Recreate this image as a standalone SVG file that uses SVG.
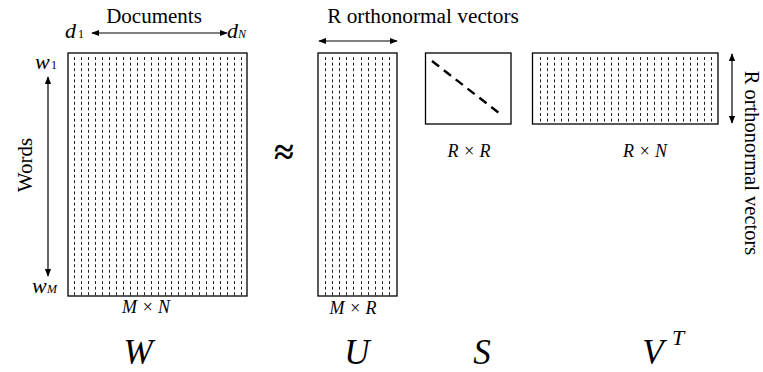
<svg xmlns="http://www.w3.org/2000/svg" width="763" height="372" viewBox="0 0 763 372">
<defs>
<marker id="ah" viewBox="0 0 10 10" refX="9" refY="5" markerWidth="8" markerHeight="8" markerUnits="userSpaceOnUse" orient="auto-start-reverse">
<path d="M0,1 L10,5 L0,9 z" fill="#000"/>
</marker>
</defs>
<style>
.t{font-family:"Liberation Serif","Times New Roman",serif;fill:#000}
.i{font-style:italic}
.box{fill:#fff;stroke:#000;stroke-width:1.3}
.vl{stroke:#222;stroke-width:1;stroke-dasharray:3 2.6}
.ar{stroke:#000;stroke-width:1.2;fill:none;marker-start:url(#ah);marker-end:url(#ah)}
</style>
<g id="W">
<rect class="box" x="68" y="53" width="179" height="243"/>
<path class="vl" d="M74.5,57V296M81.5,57V296M88.5,57V296M95.5,57V296M102.5,57V296M109.5,57V296M116.5,57V296M123.5,57V296M130.5,57V296M137.5,57V296M144.5,57V296M151.5,57V296M158.5,57V296M165.5,57V296M171.5,57V296M178.5,57V296M185.5,57V296M192.5,57V296M199.5,57V296M206.5,57V296M213.5,57V296M220.5,57V296M227.5,57V296M234.5,57V296M241.5,57V296"/>
<text class="t" x="154" y="23" font-size="21" text-anchor="middle">Documents</text>
<text class="t i" x="65" y="38" font-size="22">d</text><text class="t" x="78" y="38" font-size="12">1</text>
<text class="t i" x="227" y="38" font-size="22">d</text><text class="t i" x="238" y="38" font-size="12">N</text>
<text class="t i" x="35" y="69" font-size="22">w</text><text class="t" x="51" y="69" font-size="12">1</text>
<text class="t i" x="32" y="293" font-size="22">w</text><text class="t i" x="47" y="293" font-size="12">M</text>
<text class="t" transform="translate(32,165) rotate(-90)" font-size="21" text-anchor="middle">Words</text>
<text class="t i" x="146" y="313" font-size="18" text-anchor="middle">M × N</text>
<text class="t i" x="138" y="364" font-size="35" text-anchor="middle">W</text>
</g>
<g id="approx">
<text class="t" x="284" y="164" font-size="36" font-weight="bold" text-anchor="middle">≈</text>
</g>
<g id="U">
<rect class="box" x="318" y="53" width="79" height="243"/>
<path class="vl" d="M325.5,57V296M332.5,57V296M339.5,57V296M346.5,57V296M353.5,57V296M361.5,57V296M368.5,57V296M375.5,57V296M382.5,57V296M389.5,57V296"/>
<text class="t" x="423" y="23" font-size="21.3" text-anchor="middle">R orthonormal vectors</text>
<text class="t i" x="353" y="314" font-size="18" text-anchor="middle">M × R</text>
<text class="t i" x="357" y="364" font-size="35" text-anchor="middle">U</text>
</g>
<g id="S">
<rect class="box" x="425.5" y="53" width="85.5" height="71"/>
<line x1="432" y1="61" x2="499" y2="113" stroke="#000" stroke-width="2.4" stroke-dasharray="9 6"/>
<text class="t i" x="469" y="157" font-size="18" text-anchor="middle">R × R</text>
<text class="t i" x="482" y="364" font-size="35" text-anchor="middle">S</text>
</g>
<g id="VT">
<rect class="box" x="532.5" y="53" width="185.5" height="71"/>
<path class="vl" d="M540.5,57V122M547.5,57V122M554.5,57V122M561.5,57V122M568.5,57V122M576.5,57V122M583.5,57V122M590.5,57V122M597.5,57V122M604.5,57V122M611.5,57V122M618.5,57V122M626.5,57V122M633.5,57V122M640.5,57V122M647.5,57V122M654.5,57V122M661.5,57V122M668.5,57V122M676.5,57V122M683.5,57V122M690.5,57V122M697.5,57V122M704.5,57V122M711.5,57V122"/>
<text class="t i" x="645" y="157" font-size="18" text-anchor="middle">R × N</text>
<text class="t" transform="translate(745,163) rotate(90)" font-size="20.5" text-anchor="middle">R orthonormal vectors</text>
<text class="t i" x="653" y="364" font-size="35" text-anchor="middle">V</text>
<text class="t i" x="672" y="345" font-size="22">T</text>
</g>
<g id="connectors">
<line class="ar" x1="92" y1="33" x2="227" y2="33"/>
<line class="ar" x1="48" y1="77" x2="48" y2="276"/>
<line class="ar" x1="319" y1="41" x2="397" y2="41"/>
<line class="ar" x1="732" y1="54" x2="732" y2="123"/>
</g>
</svg>
